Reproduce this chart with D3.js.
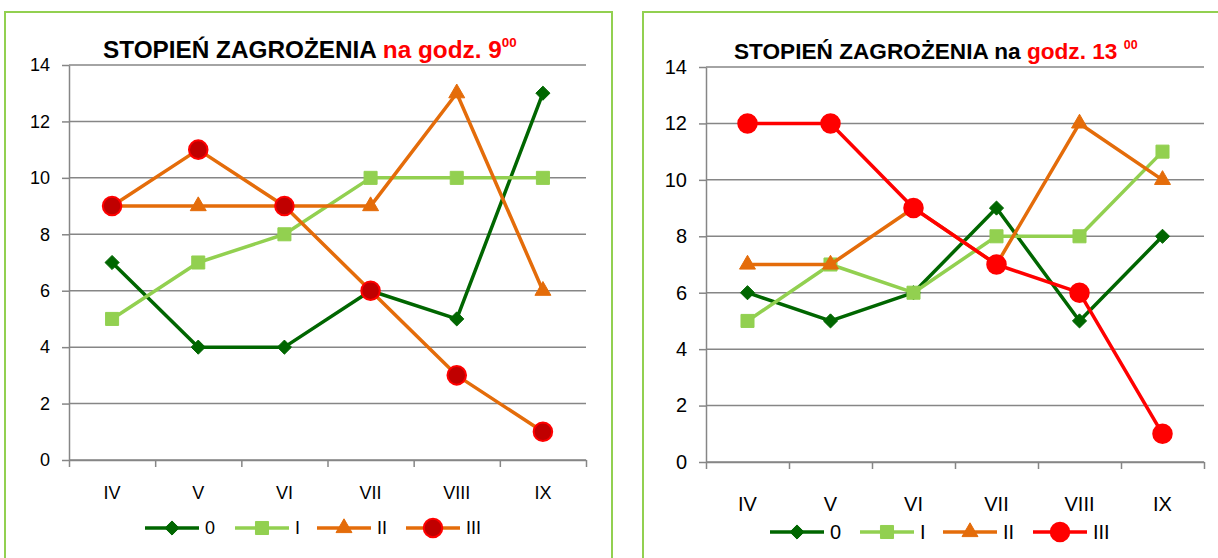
<!DOCTYPE html>
<html>
<head>
<meta charset="utf-8">
<script src="https://cdn.jsdelivr.net/npm/d3@7"></script>
<style>
  body { margin: 0; background: #fff; }
  text { font-family: "Liberation Sans", Arial, sans-serif; }
</style>
</head>
<body>
<div id="chart"></div>
<script>
// categories and series
var months = ["IV", "V", "VI", "VII", "VIII", "IX"];
var seriesNames = ["0", "I", "II", "III"];
var yTicks = [0, 2, 4, 6, 8, 10, 12, 14];

// godz. 9
var left0 = [7, 4, 4, 6, 5, 13];
var leftI = [5, 7, 8, 10, 10, 10];
var leftII = [9, 9, 9, 9, 13, 6];
var leftIII = [9, 11, 9, 6, 3, 1];

// godz. 13
var right0 = [6, 5, 6, 9, 5, 8];
var rightI = [5, 7, 6, 8, 8, 11];
var rightII = [7, 7, 9, 7, 12, 10];
var rightIII = [12, 12, 9, 7, 6, 1];

var W = 1218, H = 558;
var darkGreen = "#006600", lightGreen = "#92D050", orange = "#E46C0A", red = "#FF0000";
var gridGray = "#868686";

var svg = d3.select("#chart")
  .append("svg")
    .attr("width", W)
    .attr("height", H);

// diamond = square turned 45 degrees (d3 diamond is too tall)
var diamond = {
  draw: function(ctx, size) {
    var r = Math.sqrt(size / 2);
    ctx.moveTo(0, -r); ctx.lineTo(r, 0); ctx.lineTo(0, r); ctx.lineTo(-r, 0); ctx.closePath();
  }
};

function drawPanel(p) {
  // green frame
  svg.append("rect")
    .attr("x", p.frame[0]).attr("y", p.frame[1])
    .attr("width", p.frame[2]).attr("height", p.frame[3])
    .attr("fill", "none")
    .attr("stroke", lightGreen)
    .attr("stroke-width", 2);

  var g = svg.append("g");

  var y = d3.scaleLinear().domain([0, 14]).range([p.bottom, p.top]);
  var xEdge = d3.scaleLinear().domain([0, months.length]).range([p.left, p.right]);
  var x = d3.scaleBand().domain(months).range([p.left, p.right]).padding(0);
  var cx = function(m) { return x(m) + x.bandwidth() / 2; };

  // gridlines
  g.append("g")
    .selectAll("line")
    .data(yTicks)
    .enter().append("line")
      .attr("x1", p.left).attr("x2", p.right)
      .attr("y1", function(d) { return y(d); })
      .attr("y2", function(d) { return y(d); })
      .attr("stroke", gridGray)
      .attr("stroke-width", 1.5);

  // y axis
  var yAxis = g.append("g")
    .attr("transform", "translate(" + p.left + ",0)")
    .call(d3.axisLeft(y).tickValues(yTicks).tickSize(7).tickPadding(p.yPad).tickSizeOuter(0));
  yAxis.select(".domain").attr("stroke", gridGray).attr("stroke-width", 1.5);
  yAxis.selectAll(".tick line").attr("stroke", gridGray).attr("stroke-width", 1.5);
  yAxis.selectAll("text")
    .style("font-size", p.fs + "px")
    .style("font-family", "Liberation Sans, Arial, sans-serif")
    .attr("fill", "#000");

  // x axis: ticks on category edges, labels centered
  var xAxis = g.append("g")
    .attr("transform", "translate(0," + p.bottom + ")")
    .call(d3.axisBottom(xEdge).tickValues(d3.range(months.length + 1)).tickSize(7).tickFormat("").tickSizeOuter(0));
  xAxis.select(".domain").attr("stroke", gridGray).attr("stroke-width", 1.5);
  xAxis.selectAll(".tick line").attr("stroke", gridGray).attr("stroke-width", 1.5);

  g.append("g")
    .selectAll("text")
    .data(months)
    .enter().append("text")
      .attr("x", cx)
      .attr("y", p.xLabelY)
      .attr("text-anchor", "middle")
      .attr("dominant-baseline", "central")
      .style("font-size", p.fs + "px")
      .text(function(d) { return d; });

  var line = d3.line()
    .x(function(d, i) { return cx(months[i]); })
    .y(function(d) { return y(d); });

  // lines + markers, series order 0, I, II, III
  p.series.forEach(function(s) {
    g.append("path")
      .datum(s.values)
      .attr("d", line)
      .attr("fill", "none")
      .attr("stroke", s.lineColor)
      .attr("stroke-width", s.width)
      .attr("stroke-linejoin", "round");
    g.append("g")
      .selectAll("path")
      .data(s.values)
      .enter().append("path")
        .attr("transform", function(d, i) { return "translate(" + cx(months[i]) + "," + y(d) + ")"; })
        .attr("d", d3.symbol().type(s.symbol).size(s.size))
        .attr("fill", s.fill)
        .attr("stroke", s.stroke)
        .attr("stroke-width", s.strokeWidth);
  });

  // legend
  p.series.forEach(function(s, i) {
    var lx = p.legendX[i], ly = p.legendY;
    g.append("line")
      .attr("x1", lx - 27).attr("x2", lx + 27)
      .attr("y1", ly).attr("y2", ly)
      .attr("stroke", s.lineColor)
      .attr("stroke-width", s.width);
    g.append("path")
      .attr("transform", "translate(" + lx + "," + ly + ")")
      .attr("d", d3.symbol().type(s.symbol).size(s.size))
      .attr("fill", s.fill)
      .attr("stroke", s.stroke)
      .attr("stroke-width", s.strokeWidth);
    g.append("text")
      .attr("x", lx + 33)
      .attr("y", ly)
      .attr("dominant-baseline", "central")
      .style("font-size", p.fs + "px")
      .text(seriesNames[i]);
  });

  // title, scaled so it spans the same width as in the picture
  var t = svg.append("text")
    .attr("x", p.titleX)
    .attr("y", p.titleY)
    .style("font-weight", "bold")
    .style("font-size", p.titleFs + "px");
  var parts = p.title.map(function(part) {
    var ts = t.append("tspan").attr("fill", part.color).text(part.text);
    if (part.sup) ts.attr("dy", -p.titleFs * 0.45).style("font-size", (p.titleFs * 0.55) + "px");
    return ts;
  });
  var k = p.titleW / t.node().getComputedTextLength();
  var fs = p.titleFs * k;
  t.style("font-size", fs + "px");
  p.title.forEach(function(part, i) {
    if (part.sup) parts[i].attr("dy", -fs * 0.45).style("font-size", (fs * 0.55) + "px");
  });
}

function mkSeries(vals, iiiLine, iiiFill) {
  return [
    {values: vals[0], lineColor: darkGreen, width: 3.5, symbol: diamond, size: 100, fill: darkGreen, stroke: darkGreen, strokeWidth: 1},
    {values: vals[1], lineColor: lightGreen, width: 3.5, symbol: d3.symbolSquare, size: 170, fill: lightGreen, stroke: lightGreen, strokeWidth: 1},
    {values: vals[2], lineColor: orange, width: 3.5, symbol: d3.symbolTriangle, size: 110, fill: orange, stroke: orange, strokeWidth: 1},
    {values: vals[3], lineColor: iiiLine, width: 3.5, symbol: d3.symbolCircle, size: 270, fill: iiiFill, stroke: red, strokeWidth: 2}
  ];
}

drawPanel({
  frame: [5, 12, 607, 600],
  left: 69, right: 586, top: 65, bottom: 460,
  fs: 18, yPad: 12, xLabelY: 493,
  legendX: [172, 262, 344, 433], legendY: 528,
  titleX: 103, titleY: 58, titleFs: 22, titleW: 414,
  title: [
    {text: "STOPIEŃ ZAGROŻENIA ", color: "#000"},
    {text: "na godz. 9", color: red},
    {text: "00", color: red, sup: true}
  ],
  series: mkSeries([left0, leftI, leftII, leftIII], orange, "#C00000")
});

drawPanel({
  frame: [643, 12, 600, 600],
  left: 706, right: 1204, top: 67, bottom: 462,
  fs: 20, yPad: 12, xLabelY: 504,
  legendX: [797, 887, 970, 1060], legendY: 532,
  titleX: 734, titleY: 59, titleFs: 20, titleW: 404,
  title: [
    {text: "STOPIEŃ ZAGROŻENIA na ", color: "#000"},
    {text: "godz. 13 ", color: red},
    {text: "00", color: red, sup: true}
  ],
  series: mkSeries([right0, rightI, rightII, rightIII], red, red)
});
</script>
</body>
</html>
